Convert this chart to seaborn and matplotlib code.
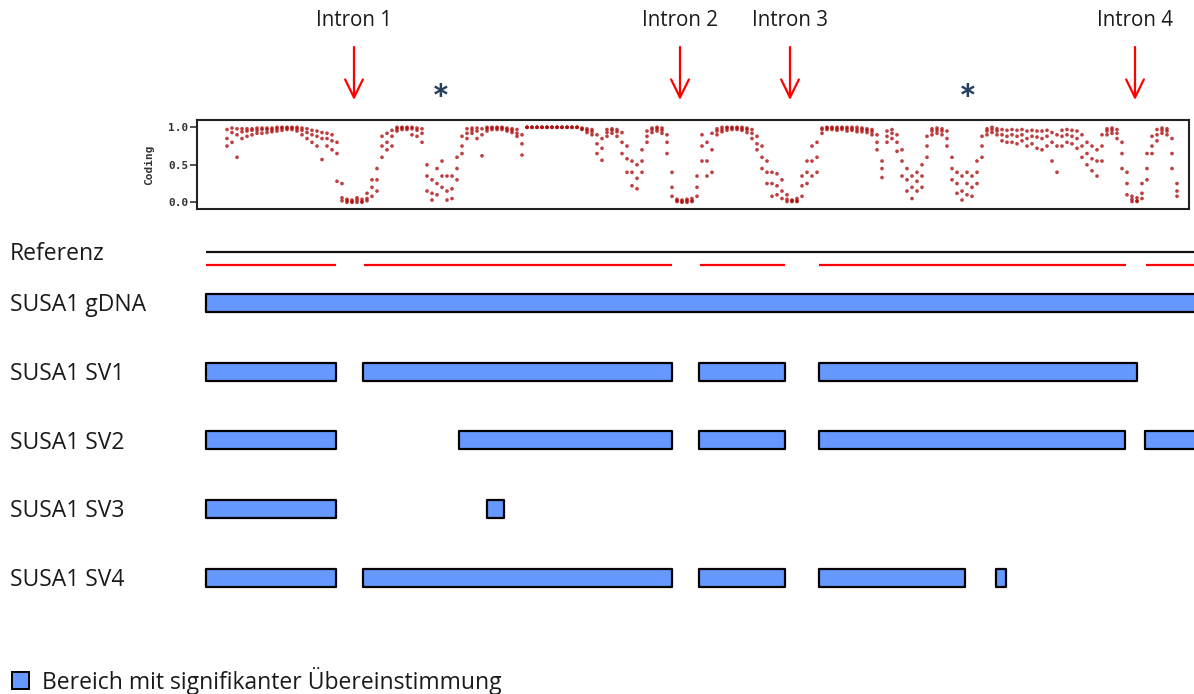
import numpy as np
import pandas as pd
import matplotlib
matplotlib.use("Agg")
import matplotlib.pyplot as plt
import seaborn as sns

# ---------------------------------------------------------------
# Data: gene positions (arbitrary units, gene start = 0)
# ---------------------------------------------------------------
row_names = ["Referenz", "SUSA1 gDNA", "SUSA1 SV1", "SUSA1 SV2", "SUSA1 SV3", "SUSA1 SV4"]

gene_end = 1000
ref_exons = [(0, 130), (158, 466), (494, 579), (613, 920), (940, 1000)]
gdna_blocks = [(0, 1000)]
sv1_blocks = [(0, 130), (157, 466), (493, 579), (613, 931)]
sv2_blocks = [(0, 130), (253, 466), (493, 579), (613, 919), (939, 1000)]
sv3_blocks = [(0, 130), (281, 298)]
sv4_blocks = [(0, 130), (157, 466), (493, 579), (613, 759), (790, 800)]

intron_names = ["Intron 1", "Intron 2", "Intron 3", "Intron 4"]
intron_pos = [148, 474, 584, 929]
star_pos = [235, 762]

legend_text = "Bereich mit signifikanter Übereinstimmung"

# Coding probability track, sampled every 5 units from 21 to 971:
# upper, middle and lower readings of the point cloud at each position
coding_pos = np.arange(21, 972, 5)
coding_hi = [
    .97, .99, .98, .98, .98, .98, .99, .99, .99, .99, 1.0, 1.0, 1.0, 1.0, 1.0, .99, .98, .96, .95, .93,
    .92, .90, .80, .25, .04, .03, .06, .04, .12, .30, .45, .88, .92, .96, 1.0, 1.0, 1.0, 1.0, .99, .98,
    .50, .30, .45, .55, .35, .35, .60, .88, .98, .99, .99, .98, 1.0, 1.0, 1.0, 1.0, .99, .98, .97, .90,
    1.0, 1.0, 1.0, 1.0, 1.0, 1.0, 1.0, 1.0, 1.0, 1.0, 1.0, .99, .98, .97, .90, .85, .97, .98, .97, .93,
    .75, .55, .50, .70, .95, .99, 1.0, .99, .90, .40, .04, .03, .04, .05, .35, .90, .80, .92, .98, 1.0,
    1.0, 1.0, 1.0, 1.0, .99, .97, .88, .75, .55, .40, .38, .30, .10, .03, .05, .35, .55, .75, .80, .99,
    1.0, 1.0, 1.0, 1.0, 1.0, 1.0, 1.0, .99, .98, .97, .90, .55, .95, .97, .90, .70, .45, .35, .40, .50,
    .88, .98, .99, .98, .95, .60, .40, .35, .40, .35, .55, .88, .98, 1.0, .98, .97, .96, .97, .96, .97,
    .95, .96, .95, .95, .96, .93, .90, .96, .97, .96, .95, .90, .80, .75, .70, .90, .98, .99, .97, .80,
    .40, .08, .06, .25, .65, .88, .97, .99, .98, .85, .25,
]
coding_mid = [
    .85, .93, .90, .94, .95, .96, .96, .97, .97, .97, .98, .99, .99, .99, .98, .96, .93, .90, .88, .85,
    .85, .82, .65, .06, .02, .01, .03, .01, .05, .20, .30, .75, .80, .88, .98, .99, .99, .98, .96, .92,
    .35, .12, .25, .35, .15, .18, .45, .75, .92, .96, .95, .90, .98, .99, .99, .99, .97, .96, .92, .78,
    1.0, 1.0, 1.0, 1.0, 1.0, 1.0, 1.0, 1.0, 1.0, 1.0, 1.0, .98, .96, .94, .78, .72, .93, .96, .94, .80,
    .58, .40, .32, .55, .88, .97, .98, .96, .80, .20, .02, .01, .02, .02, .20, .75, .55, .70, .95, .97,
    .99, .99, .99, .98, .97, .92, .78, .60, .40, .25, .22, .15, .04, .02, .02, .22, .40, .55, .60, .97,
    .99, .99, .98, .99, .98, .98, .97, .97, .96, .94, .80, .45, .88, .92, .80, .55, .30, .20, .28, .35,
    .75, .95, .96, .95, .85, .45, .25, .15, .25, .20, .40, .75, .95, .97, .95, .90, .88, .90, .88, .90,
    .85, .88, .87, .85, .88, .80, .75, .88, .90, .88, .85, .75, .65, .58, .55, .75, .95, .96, .92, .65,
    .25, .04, .02, .12, .45, .75, .90, .96, .95, .65, .15,
]
coding_lo = [
    .75, .80, .60, .85, .88, .90, .92, .92, .93, .94, .95, .96, .97, .97, .95, .90, .85, .80, .75, .57,
    .75, .70, .28, .02, .00, .00, .00, .00, .02, .08, .15, .60, .70, .75, .95, .97, .97, .90, .88, .80,
    .15, .03, .10, .20, .03, .05, .30, .65, .85, .92, .85, .62, .95, .97, .97, .97, .95, .93, .88, .63,
    1.0, 1.0, 1.0, 1.0, 1.0, 1.0, 1.0, 1.0, 1.0, 1.0, 1.0, .97, .93, .90, .65, .56, .88, .92, .88, .65,
    .40, .22, .18, .40, .80, .93, .95, .92, .65, .08, .01, .00, .00, .01, .08, .55, .35, .40, .90, .94,
    .96, .97, .97, .96, .93, .85, .70, .45, .25, .08, .10, .05, .01, .01, .01, .08, .25, .35, .40, .92,
    .97, .97, .96, .97, .95, .96, .94, .94, .93, .90, .70, .33, .80, .85, .68, .35, .15, .05, .15, .20,
    .60, .90, .92, .90, .75, .30, .12, .03, .10, .08, .25, .60, .90, .93, .90, .82, .80, .80, .78, .82,
    .75, .78, .72, .70, .75, .55, .40, .75, .80, .78, .72, .60, .50, .42, .35, .55, .90, .92, .85, .45,
    .10, .01, .01, .05, .30, .65, .82, .92, .90, .45, .08,
]

# ---------------------------------------------------------------
# Styling
# ---------------------------------------------------------------
sns.set_theme(style="white")
plt.rcParams["font.family"] = ["Open Sans", "DejaVu Sans"]

W, H = 1194, 694
fig = plt.figure(figsize=(W / 100, H / 100), dpi=100)
fig.patch.set_facecolor("white")

# Layout (pixel units of the canvas)
gene_x0 = 206                   # canvas x of gene position 0
row_y = [251.5, 303, 372, 440, 508.5, 577.5]
label_base = [259.5, 311, 380, 449, 517, 586]
ref_red_y = 265.3
bar_h = 18
bar_face = "#6699FF"
text_size = 16.5
intron_size = 14.8
text_color = "#1a1a1a"

# Canvas axes for free text (pixel coordinates)
canvas = fig.add_axes([0, 0, 1, 1])
canvas.set_xlim(0, W)
canvas.set_ylim(H, 0)
canvas.axis("off")

# Gene axes in position units, same vertical pixel scale
gax = fig.add_axes([0, 0, 1, 1], sharey=canvas)
gax.set_xlim(-gene_x0, W - gene_x0)
gax.axis("off")
gax.patch.set_alpha(0)

# Row labels
for name, yb in zip(row_names, label_base):
    canvas.text(10, yb, name, fontsize=text_size, color=text_color, va="baseline", ha="left")

# Reference: full line plus exon segments
gax.hlines(row_y[0], 0, gene_end, color="#111111", lw=1.6)
gax.hlines([ref_red_y] * len(ref_exons), [s for s, e in ref_exons], [e for s, e in ref_exons],
           color="#FF0000", lw=1.6)

# Transcript blocks
for blocks, yc in zip([gdna_blocks, sv1_blocks, sv2_blocks, sv3_blocks, sv4_blocks], row_y[1:]):
    gax.broken_barh([(s, e - s) for s, e in blocks], (yc - bar_h / 2, bar_h),
                    facecolors=bar_face, edgecolors="black", linewidth=1.6)

# Intron markers
for name, p in zip(intron_names, intron_pos):
    gax.annotate("", xy=(p, 100), xytext=(p, 47),
                 arrowprops=dict(arrowstyle="->,head_length=0.65,head_width=0.32",
                                 color="#FF0000", lw=1.6, shrinkA=0, shrinkB=0,
                                 mutation_scale=20))
    gax.text(p, 26, name, fontsize=intron_size, color=text_color, ha="center", va="baseline")

for p in star_pos:
    gax.text(p, 115, "*", fontsize=30, fontweight="bold", color="#243F60",
             ha="center", va="baseline", family="Lato")

# Legend
canvas.add_patch(plt.Rectangle((12, 672), 17, 17, facecolor=bar_face,
                               edgecolor="black", linewidth=1.4))
canvas.text(42, 689, legend_text, fontsize=text_size, color=text_color, va="baseline", ha="left")

# ---------------------------------------------------------------
# Coding track
# ---------------------------------------------------------------
ax_l, ax_r, ax_t, ax_b = 197, 1189, 120, 209
cax = fig.add_axes([ax_l / W, 1 - ax_b / H, (ax_r - ax_l) / W, (ax_b - ax_t) / H])
cax.set_xlim(ax_l - gene_x0, ax_r - gene_x0)
y0_px, y1_px = 202.3, 127.3
unit = y0_px - y1_px
cax.set_ylim((y0_px - ax_b) / unit, (y0_px - ax_t) / unit)

track = pd.concat([
    pd.DataFrame({"pos": coding_pos, "coding": coding_hi}),
    pd.DataFrame({"pos": coding_pos, "coding": coding_mid}),
    pd.DataFrame({"pos": coding_pos, "coding": coding_lo}),
], ignore_index=True)
sns.scatterplot(data=track, x="pos", y="coding", ax=cax, s=7, marker="o",
                color="#B01010", edgecolor="none", alpha=0.8, legend=False)

cax.set_xticks([])
cax.set_yticks([0.0, 0.5, 1.0])
cax.set_yticklabels(["0.0", "0.5", "1.0"], family="DejaVu Sans Mono", fontsize=8,
                    fontweight="bold", color="#333333")
cax.tick_params(axis="y", direction="out", length=5, width=1.2, color="#333333",
                left=True, pad=1)
cax.set_xlabel("")
cax.set_ylabel("Coding", family="DejaVu Sans Mono", fontsize=8, fontweight="bold",
               color="#333333", labelpad=10)
for sp in cax.spines.values():
    sp.set_color("#222222")
    sp.set_linewidth(1.5)
    sp.set_visible(True)
cax.set_facecolor("white")

fig.savefig("out.png", dpi=100, facecolor="white")
